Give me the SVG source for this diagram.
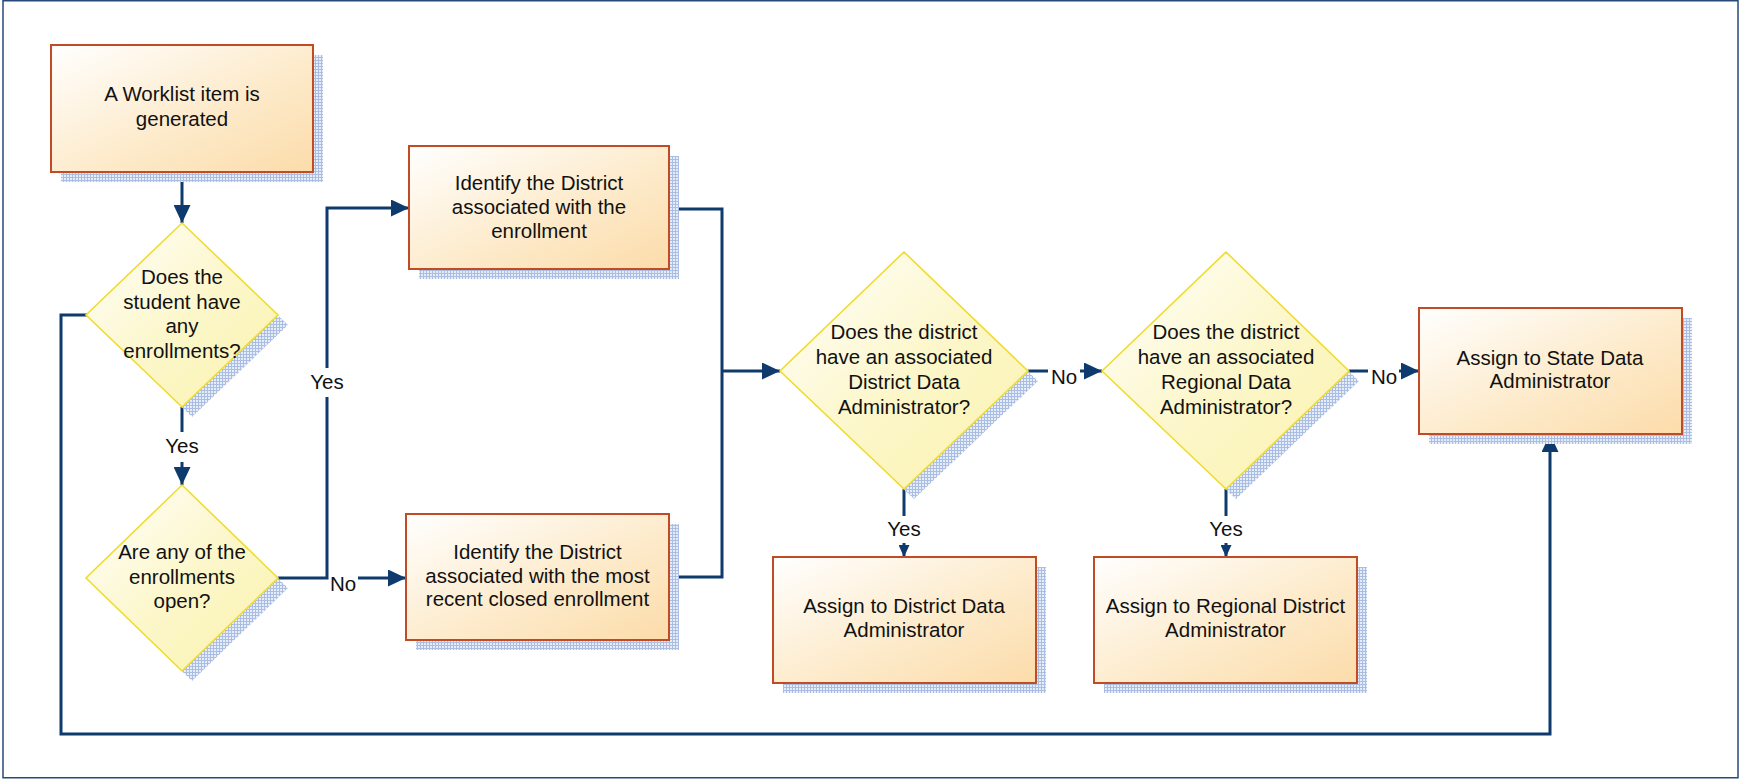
<svg xmlns="http://www.w3.org/2000/svg" width="1740" height="780" viewBox="0 0 1740 780">
<defs>
<linearGradient id="gBox" x1="0" y1="0" x2="1" y2="1">
<stop offset="0" stop-color="#ffffff"/>
<stop offset="0.55" stop-color="#fdebcc"/>
<stop offset="1" stop-color="#fcdcaa"/>
</linearGradient>
<linearGradient id="gDia" x1="0" y1="0" x2="1" y2="1">
<stop offset="0" stop-color="#ffffff"/>
<stop offset="0.5" stop-color="#fcf7cc"/>
<stop offset="1" stop-color="#fbf2ac"/>
</linearGradient>
<pattern id="pShadow" width="3" height="3" patternUnits="userSpaceOnUse">
<rect width="3" height="3" fill="#e6ecf8"/>
<rect width="3" height="1" fill="#aabde2"/>
<rect width="1" height="3" fill="#aabde2"/>
</pattern>
<marker id="arrL" markerUnits="userSpaceOnUse" viewBox="0 0 18 17" markerWidth="18" markerHeight="17" refX="18" refY="8.5" orient="auto">
<path d="M0,0 L18,8.5 L0,17 z" fill="#0e3a6d"/>
</marker>
<marker id="arrS" markerUnits="userSpaceOnUse" viewBox="0 0 12 11" markerWidth="12" markerHeight="11" refX="12" refY="5.5" orient="auto">
<path d="M0,0 L12,5.5 L0,11 z" fill="#0e3a6d"/>
</marker>
<style>
.box{fill:url(#gBox);stroke:#c14b24;stroke-width:2}
.dia{fill:url(#gDia);stroke:#f0dc2c;stroke-width:1.6}
.sh{fill:url(#pShadow);stroke:none}
.t{font-family:"Liberation Sans",Arial,sans-serif;font-size:20.5px;fill:#111;text-anchor:middle}
.c{fill:none;stroke:#0e3a6d;stroke-width:3}
</style>
</defs>
<rect x="3" y="0.75" width="1735" height="777" fill="#ffffff" stroke="#27497a" stroke-width="1.5"/>

<g id="connectors">
<path class="c" d="M182,172 V223" marker-end="url(#arrL)"/>
<path class="c" d="M182,407 V432"/>
<path class="c" d="M182,462 V485" marker-end="url(#arrL)"/>
<text class="t" x="182" y="453">Yes</text>
<path class="c" d="M278,578 H327 V397"/>
<path class="c" d="M327,368 V208 H409" marker-end="url(#arrL)"/>
<text class="t" x="327" y="389">Yes</text>
<text class="t" x="343" y="591">No</text>
<path class="c" d="M358,578 H406" marker-end="url(#arrL)"/>
<path class="c" d="M669,209 H722 V577 H669"/>
<path class="c" d="M722,371 H780" marker-end="url(#arrL)"/>
<path class="c" d="M1028,371 H1048"/>
<text class="t" x="1064" y="384">No</text>
<path class="c" d="M1080,371 H1102" marker-end="url(#arrL)"/>
<path class="c" d="M1349,371 H1368"/>
<text class="t" x="1384" y="384">No</text>
<path class="c" d="M1399,371 H1419" marker-end="url(#arrL)"/>
<path class="c" d="M904,489 V516"/>
<text class="t" x="904" y="536">Yes</text>
<path class="c" d="M904,543 V557" marker-end="url(#arrS)"/>
<path class="c" d="M1226,489 V516"/>
<text class="t" x="1226" y="536">Yes</text>
<path class="c" d="M1226,543 V557" marker-end="url(#arrS)"/>
<path class="c" d="M87,315 H61 V734 H1550 V434" marker-end="url(#arrL)"/>
</g>

<g id="start">
<rect class="sh" x="61" y="55" width="262" height="127"/>
<rect class="box" x="51" y="45" width="262" height="127"/>
<text class="t" x="182" y="101">A Worklist item is</text>
<text class="t" x="182" y="126">generated</text>
</g>

<g id="q-enrollments">
<path class="sh" d="M192,233 L288,325 L192,417 L96,325 z"/>
<path class="dia" d="M182,223 L278,315 L182,407 L86,315 z"/>
<text class="t" x="182" y="284">Does the</text>
<text class="t" x="182" y="309">student have</text>
<text class="t" x="182" y="333">any</text>
<text class="t" x="182" y="358">enrollments?</text>
</g>

<g id="q-open">
<path class="sh" d="M192,495 L288,588 L192,681 L96,588 z"/>
<path class="dia" d="M182,485 L278,578 L182,671 L86,578 z"/>
<text class="t" x="182" y="559">Are any of the</text>
<text class="t" x="182" y="584">enrollments</text>
<text class="t" x="182" y="608">open?</text>
</g>

<g id="identify-open">
<rect class="sh" x="419" y="156" width="260" height="123"/>
<rect class="box" x="409" y="146" width="260" height="123"/>
<text class="t" x="539" y="190">Identify the District</text>
<text class="t" x="539" y="214">associated with the</text>
<text class="t" x="539" y="238">enrollment</text>
</g>

<g id="identify-closed">
<rect class="sh" x="416" y="524" width="263" height="126"/>
<rect class="box" x="406" y="514" width="263" height="126"/>
<text class="t" x="537.5" y="559">Identify the District</text>
<text class="t" x="537.5" y="583">associated with the most</text>
<text class="t" x="537.5" y="606">recent closed enrollment</text>
</g>

<g id="q-district-admin">
<path class="sh" d="M914,262 L1038,381 L914,499 L790,381 z"/>
<path class="dia" d="M904,252 L1028,371 L904,489 L780,371 z"/>
<text class="t" x="904" y="339">Does the district</text>
<text class="t" x="904" y="364">have an associated</text>
<text class="t" x="904" y="389">District Data</text>
<text class="t" x="904" y="414">Administrator?</text>
</g>

<g id="q-regional-admin">
<path class="sh" d="M1236,262 L1359,381 L1236,499 L1112,381 z"/>
<path class="dia" d="M1226,252 L1349,371 L1226,489 L1102,371 z"/>
<text class="t" x="1226" y="339">Does the district</text>
<text class="t" x="1226" y="364">have an associated</text>
<text class="t" x="1226" y="389">Regional Data</text>
<text class="t" x="1226" y="414">Administrator?</text>
</g>

<g id="assign-state">
<rect class="sh" x="1429" y="318" width="263" height="126"/>
<rect class="box" x="1419" y="308" width="263" height="126"/>
<text class="t" x="1550" y="365">Assign to State Data</text>
<text class="t" x="1550" y="388">Administrator</text>
</g>

<g id="assign-district">
<rect class="sh" x="783" y="567" width="263" height="126"/>
<rect class="box" x="773" y="557" width="263" height="126"/>
<text class="t" x="904" y="613">Assign to District Data</text>
<text class="t" x="904" y="637">Administrator</text>
</g>

<g id="assign-regional">
<rect class="sh" x="1104" y="567" width="263" height="126"/>
<rect class="box" x="1094" y="557" width="263" height="126"/>
<text class="t" x="1225.5" y="613">Assign to Regional District</text>
<text class="t" x="1225.5" y="637">Administrator</text>
</g>
</svg>
